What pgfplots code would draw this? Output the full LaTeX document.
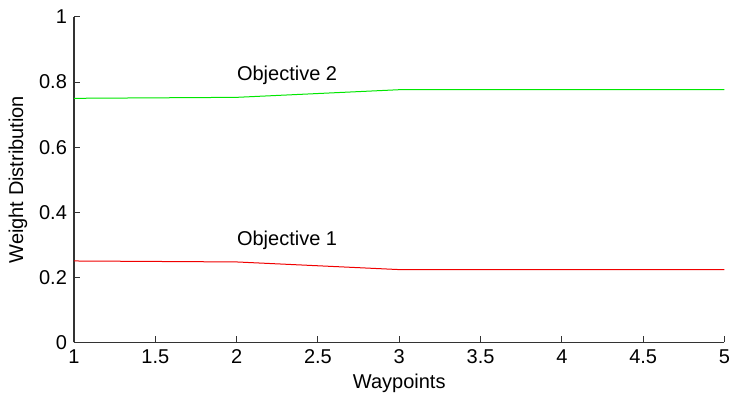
\documentclass[border=0pt]{standalone}
\usepackage{pgfplots}
\pgfplotsset{compat=1.18}
\usepackage{fontspec}
\setmainfont{Liberation Sans}
\begin{document}
\begin{tikzpicture}
\begin{axis}[
  name=ax, at={(0,0)}, anchor=south west,
  scale only axis, width=325.25pt, height=162.65pt,
  xmin=1, xmax=5, ymin=0, ymax=1,
  axis x line*=bottom, axis y line*=left,
  axis line style={-, line width=0.6pt, black!80},
  tick align=inside, major tick length=3.2pt,
  tick style={line width=0.5pt, black!80},
  xtick={1,1.5,2,2.5,3,3.5,4,4.5,5},
  ytick={0,0.2,0.4,0.6,0.8,1},
  font=\fontsize{10}{12}\selectfont,
  /pgf/number format/assume math mode=true,
  /pgf/number format/fixed,
  xlabel={Waypoints}, ylabel={Weight Distribution},
  xlabel style={at={(axis description cs:0.5,0)}, anchor=center, yshift=-20.4pt},
  ylabel style={at={(axis description cs:0,0.5)}, anchor=center, rotate=0, yshift=28pt},
  clip=false,
]
\addplot[color={rgb,255:red,0;green,230;blue,0}, line width=0.5pt] coordinates {(1,0.750) (2,0.753) (3,0.7765) (4,0.7765) (5,0.7765)};
\addplot[color={rgb,255:red,240;green,0;blue,0}, line width=0.5pt] coordinates {(1,0.250) (2,0.247) (3,0.2235) (4,0.2235) (5,0.2235)};
\node[anchor=west, inner sep=0pt] at (axis cs:2.0,0.822) {Objective 2};
\node[anchor=west, inner sep=0pt] at (axis cs:2.0,0.314) {Objective 1};
\end{axis}
\pgfresetboundingbox
\path (-37pt,-26.85pt) rectangle (328pt,171.15pt);
\end{tikzpicture}
\end{document}
